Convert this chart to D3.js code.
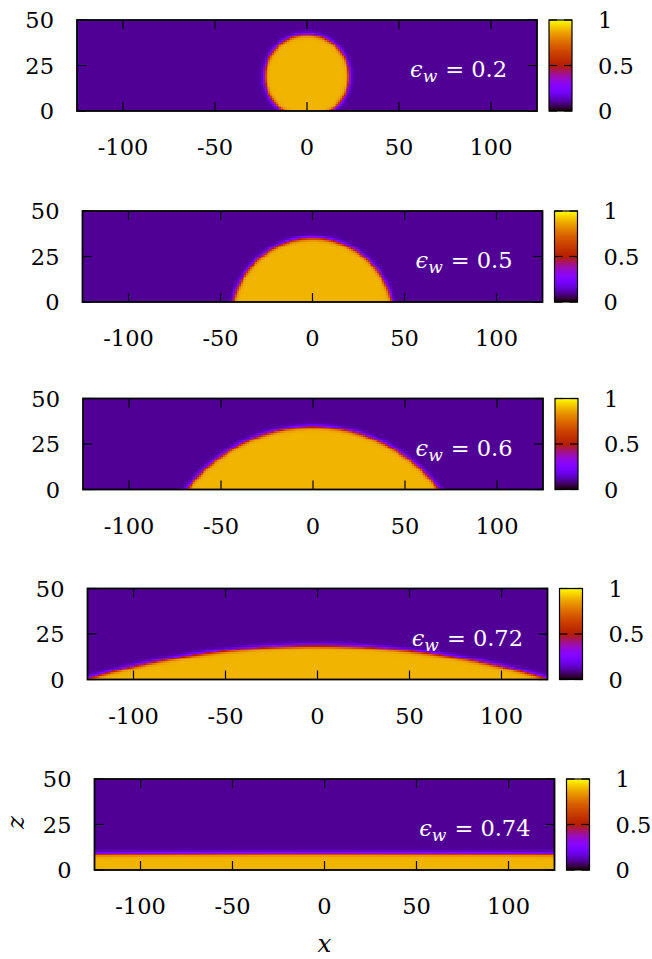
<!DOCTYPE html>
<html>
<head>
<meta charset="utf-8">
<script src="https://cdn.jsdelivr.net/npm/d3@7"></script>
<style>
  body { margin: 0; background: #fff; }
</style>
</head>
<body>
<svg id="chart" width="652" height="959"></svg>
<script>
// Droplet shapes (x and z in lattice units)
const epsW = [0.2, 0.5, 0.6, 0.72, 0.74];
const contactHalfWidth = [13, 43, 68.6, 127, 700];
const apexHeight = [42, 35, 34.4, 18.5, 9];

const xDomain = [-125, 125];
const zDomain = [0, 50];
const xTicks = [-100, -50, 0, 50, 100];
const zTicks = [0, 25, 50];
const cbTicks = [0, 0.5, 1];

const phiVapour = 0.1;
const phiLiquid = 0.89;
const interfaceWidth = 1.1;

// layout
const panelLeft = [77, 82.5, 83, 87.5, 94.5];
const panelTop = [20, 211, 398.5, 588.5, 779];
const panelW = 460;
const panelH = 91;
const labelEnd = [30, 30, 30.5, 24.5, 24];
const serif = "'DejaVu Serif', serif";
const fs = 22.5;

// gnuplot default palette (rgbformulae 7,5,15)
const palette = v => d3.rgb(
    255 * Math.sqrt(v),
    255 * Math.pow(v, 3),
    255 * Math.max(0, Math.sin(2 * Math.PI * v))
);
const colorScale = d3.scaleSequential(palette).domain([0, 1]);

const svg = d3.select('#chart')
    .attr('font-family', serif);

const createPanel = (i) => {
    const g = svg.append('g')
        .attr('transform', `translate(${panelLeft[i]},${panelTop[i]})`);

    const xScale = d3.scaleLinear().domain(xDomain).range([0, panelW]);
    const zScale = d3.scaleLinear().domain(zDomain).range([panelH, 0]);

    // spherical cap through the contact line and the apex
    const a = contactHalfWidth[i];
    const h = apexHeight[i];
    const R = (a * a + h * h) / (2 * h);
    const zc = h - R;

    const nx = xDomain[1] - xDomain[0];
    const nz = zDomain[1] - zDomain[0];
    const cellX = d3.scaleLinear().domain([0, nx]).range(xDomain);
    const cellZ = d3.scaleLinear().domain([0, nz]).range([zDomain[1], zDomain[0]]);

    const canvas = document.createElement('canvas');
    canvas.width = nx;
    canvas.height = nz;
    const ctx = canvas.getContext('2d');
    const img = ctx.createImageData(nx, nz);
    for (let row = 0; row < nz; row++) {
        for (let col = 0; col < nx; col++) {
            const x = cellX(col + 0.5);
            const z = cellZ(row + 0.5);
            const d = Math.hypot(x, z - zc) - R;
            const phi = phiVapour + (phiLiquid - phiVapour) * 0.5 * (1 - Math.tanh(d / interfaceWidth));
            const c = d3.rgb(colorScale(phi));
            const k = 4 * (row * nx + col);
            img.data[k] = c.r;
            img.data[k + 1] = c.g;
            img.data[k + 2] = c.b;
            img.data[k + 3] = 255;
        }
    }
    ctx.putImageData(img, 0, 0);

    g.append('image')
        .attr('href', canvas.toDataURL())
        .attr('x', xScale(xDomain[0]))
        .attr('y', zScale(zDomain[1]))
        .attr('width', xScale(xDomain[1]) - xScale(xDomain[0]))
        .attr('height', zScale(zDomain[0]) - zScale(zDomain[1]))
        .attr('preserveAspectRatio', 'none')
        .style('image-rendering', 'pixelated');

    // inward ticks on all four sides
    const tick = 9;
    xTicks.forEach(t => {
        g.append('line').attr('x1', xScale(t)).attr('x2', xScale(t))
            .attr('y1', panelH).attr('y2', panelH - tick)
            .attr('stroke', '#000').attr('stroke-width', 1.2);
        g.append('line').attr('x1', xScale(t)).attr('x2', xScale(t))
            .attr('y1', 0).attr('y2', tick)
            .attr('stroke', '#000').attr('stroke-width', 1.2);
    });
    zTicks.forEach(t => {
        g.append('line').attr('x1', 0).attr('x2', tick)
            .attr('y1', zScale(t)).attr('y2', zScale(t))
            .attr('stroke', '#000').attr('stroke-width', 1.2);
        g.append('line').attr('x1', panelW).attr('x2', panelW - tick)
            .attr('y1', zScale(t)).attr('y2', zScale(t))
            .attr('stroke', '#000').attr('stroke-width', 1.2);
    });

    g.append('rect')
        .attr('width', panelW).attr('height', panelH)
        .attr('fill', 'none').attr('stroke', '#000').attr('stroke-width', 1.8);

    // tick labels
    g.selectAll('.xlab').data(xTicks).enter().append('text')
        .attr('x', d => xScale(d)).attr('y', panelH + 44)
        .attr('text-anchor', 'middle').attr('font-size', fs)
        .text(d => d);

    g.selectAll('.zlab').data(zTicks).enter().append('text')
        .attr('x', -23).attr('y', d => zScale(d) + 8)
        .attr('text-anchor', 'end').attr('font-size', fs)
        .text(d => d);

    // wetting label
    const lab = g.append('text')
        .attr('x', panelW - labelEnd[i]).attr('y', 57)
        .attr('text-anchor', 'end').attr('font-size', fs).attr('fill', '#fff');
    lab.append('tspan').attr('font-style', 'italic').text('ϵ');
    lab.append('tspan').attr('font-style', 'italic')
        .attr('font-size', 17).attr('dy', 5).text('w');
    lab.append('tspan').attr('dy', -5).attr('dx', 8)
        .text(`= ${epsW[i]}`);

    // colour box
    const cbX = panelW + 12;
    const cbW = 23;
    const cbScale = d3.scaleLinear().domain([0, 1]).range([panelH, 0]);
    const cbCanvas = document.createElement('canvas');
    cbCanvas.width = 1;
    cbCanvas.height = panelH * 2;
    const cctx = cbCanvas.getContext('2d');
    const cbPix = d3.scaleLinear().domain([0, panelH * 2]).range([1, 0]);
    for (let r = 0; r < panelH * 2; r++) {
        cctx.fillStyle = colorScale(cbPix(r + 0.5));
        cctx.fillRect(0, r, 1, 1);
    }
    g.append('image')
        .attr('href', cbCanvas.toDataURL())
        .attr('x', cbX).attr('y', 0)
        .attr('width', cbW).attr('height', panelH)
        .attr('preserveAspectRatio', 'none');

    cbTicks.forEach(t => {
        g.append('line').attr('x1', cbX).attr('x2', cbX + 8)
            .attr('y1', cbScale(t)).attr('y2', cbScale(t))
            .attr('stroke', '#000').attr('stroke-width', 1.2);
        g.append('line').attr('x1', cbX + cbW).attr('x2', cbX + cbW - 8)
            .attr('y1', cbScale(t)).attr('y2', cbScale(t))
            .attr('stroke', '#000').attr('stroke-width', 1.2);
    });
    g.append('rect')
        .attr('x', cbX).attr('width', cbW).attr('height', panelH)
        .attr('fill', 'none').attr('stroke', '#000').attr('stroke-width', 1.2);

    g.selectAll('.cblab').data(cbTicks).enter().append('text')
        .attr('x', cbX + cbW + 26).attr('y', d => cbScale(d) + 8)
        .attr('font-size', fs)
        .text(d => d);

    return { g, xScale, zScale };
};

let last;
epsW.forEach((e, i) => { last = createPanel(i); });

// axis titles on the bottom panel
last.g.append('text')
    .attr('x', panelW / 2).attr('y', panelH + 82)
    .attr('text-anchor', 'middle')
    .attr('font-size', fs + 2).attr('font-style', 'italic')
    .text('x');

last.g.append('text')
    .attr('transform', `translate(${-panelLeft[4] + 24},${panelH / 2 - 2}) rotate(-90)`)
    .attr('text-anchor', 'middle')
    .attr('font-size', fs + 2).attr('font-style', 'italic')
    .text('z');
</script>
</body>
</html>
